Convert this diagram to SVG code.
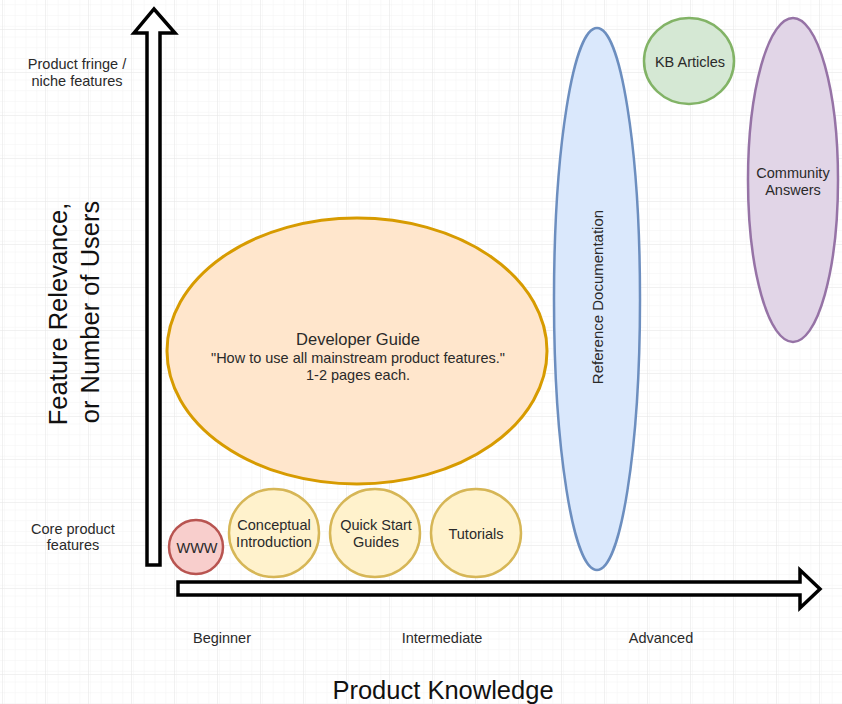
<svg xmlns="http://www.w3.org/2000/svg" width="842" height="704" viewBox="0 0 842 704">
  <defs>
    <pattern id="minorGrid" x="2" y="29" width="10.75" height="10.75" patternUnits="userSpaceOnUse">
      <path d="M10.75 0 L0 0 L0 10.75" fill="none" stroke="#f4f4f4" stroke-width="1"/>
    </pattern>
    <pattern id="majorGrid" x="2" y="29" width="43" height="43" patternUnits="userSpaceOnUse">
      <rect width="43" height="43" fill="url(#minorGrid)"/>
      <path d="M43 0 L0 0 L0 43" fill="none" stroke="#e4e4e4" stroke-width="1"/>
    </pattern>
    <style>
      text { font-family: "Liberation Sans", Arial, Helvetica, sans-serif; fill: #2a2a2a; }
      .lbl { font-size: 14.5px; text-anchor: middle; }
      .title { font-size: 16.5px; text-anchor: middle; }
      .axis { font-size: 25.5px; text-anchor: middle; fill: #111; }
      .arrow { fill: #ffffff; stroke: #000000; stroke-width: 3.5; stroke-linejoin: miter; }
      .peach { fill: #ffe6cc; stroke: #d79b00; stroke-width: 3; }
      .yellow { fill: #fff2cc; stroke: #d6b656; stroke-width: 2.5; }
      .red { fill: #f8cecc; stroke: #b85450; stroke-width: 2.5; }
      .blue { fill: #dae8fc; stroke: #6c8ebf; stroke-width: 2.5; }
      .green { fill: #d5e8d4; stroke: #82b366; stroke-width: 2.5; }
      .purple { fill: #e1d5e7; stroke: #9673a6; stroke-width: 2.5; }
    </style>
  </defs>

  <!-- canvas with grid -->
  <rect width="842" height="704" fill="#ffffff"/>
  <rect width="842" height="704" fill="url(#majorGrid)"/>

  <!-- axes -->
  <g id="connectors">
    <path id="y-axis" class="arrow" d="M147,565 L147,33 L134,33 L154,9 L175,33 L160,33 L160,565 Z"/>
    <path id="x-axis" class="arrow" d="M178,582 L800,582 L800,570 L820,589 L800,608 L800,595 L178,595 Z"/>
  </g>

  <!-- axis labels -->
  <g id="axis-labels">
    <text class="lbl" x="77" y="69">Product fringe /</text>
    <text class="lbl" x="77" y="86">niche features</text>
    <text class="lbl" x="73" y="534">Core product</text>
    <text class="lbl" x="73" y="550">features</text>
    <text class="axis" transform="rotate(-90 67 314)" x="67" y="314">Feature Relevance,</text>
    <text class="axis" transform="rotate(-90 99 312)" x="99" y="312">or Number of Users</text>
    <text class="lbl" x="222" y="643">Beginner</text>
    <text class="lbl" x="442" y="643">Intermediate</text>
    <text class="lbl" x="661" y="643">Advanced</text>
    <text class="axis" x="443" y="699">Product Knowledge</text>
  </g>

  <!-- documentation types -->
  <g id="developer-guide">
    <ellipse class="peach" cx="357" cy="351" rx="190" ry="133"/>
    <text class="title" x="358" y="345">Developer Guide</text>
    <text class="lbl" x="358" y="363">"How to use all mainstream product features."</text>
    <text class="lbl" x="358" y="380">1-2 pages each.</text>
  </g>

  <g id="www">
    <ellipse class="red" cx="196" cy="547" rx="27" ry="27"/>
    <text class="lbl" x="197" y="553">WWW</text>
  </g>

  <g id="conceptual-introduction">
    <ellipse class="yellow" cx="274" cy="533" rx="45" ry="44"/>
    <text class="lbl" x="274" y="530">Conceptual</text>
    <text class="lbl" x="274" y="547">Introduction</text>
  </g>

  <g id="quick-start-guides">
    <ellipse class="yellow" cx="375" cy="533" rx="45" ry="44"/>
    <text class="lbl" x="376" y="530">Quick Start</text>
    <text class="lbl" x="376" y="547">Guides</text>
  </g>

  <g id="tutorials">
    <ellipse class="yellow" cx="476" cy="533" rx="45" ry="44"/>
    <text class="lbl" x="476" y="539">Tutorials</text>
  </g>

  <g id="reference-documentation">
    <ellipse class="blue" cx="597" cy="299" rx="43" ry="271"/>
    <text class="lbl" style="font-size:15px" transform="rotate(-90 603 297)" x="603" y="297">Reference Documentation</text>
  </g>

  <g id="kb-articles">
    <ellipse class="green" cx="689" cy="61" rx="45" ry="43"/>
    <text class="lbl" x="690" y="67">KB Articles</text>
  </g>

  <g id="community-answers">
    <ellipse class="purple" cx="793" cy="180" rx="45" ry="162"/>
    <text class="lbl" x="793" y="178">Community</text>
    <text class="lbl" x="793" y="195">Answers</text>
  </g>
</svg>
